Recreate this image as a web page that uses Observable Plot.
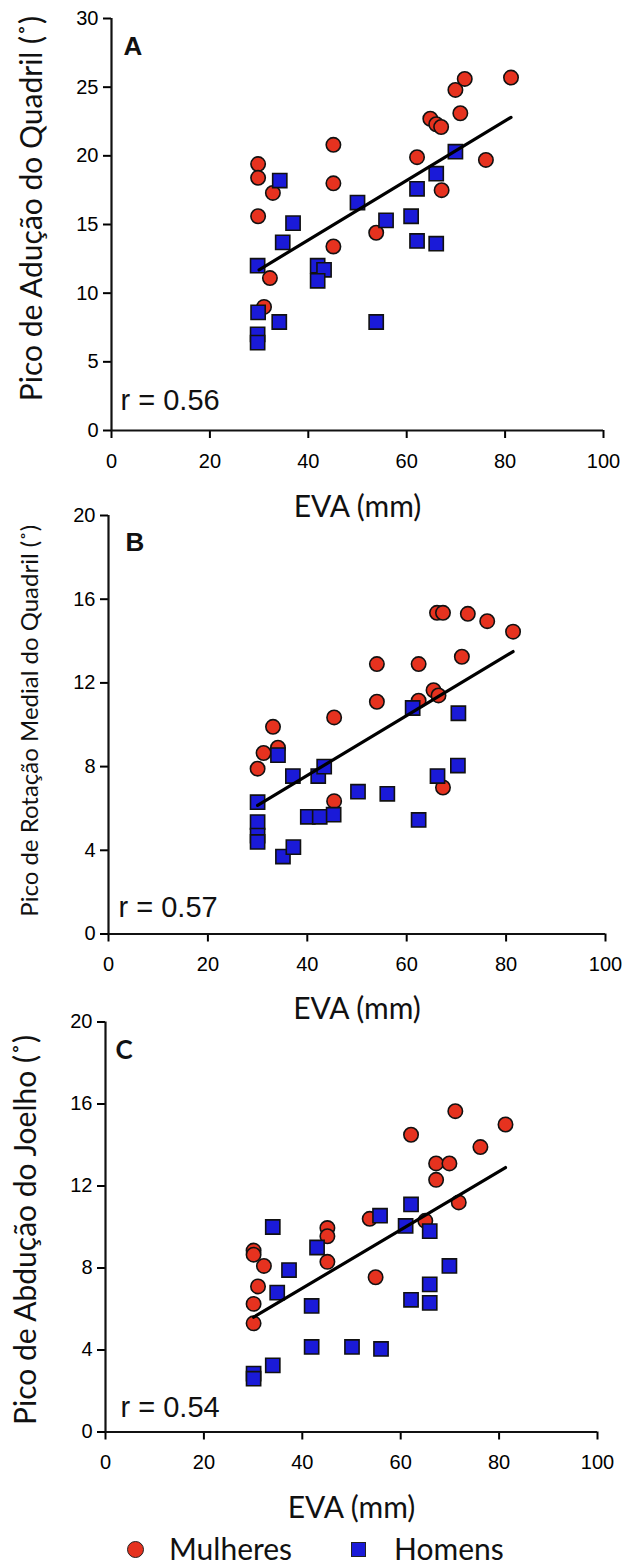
<!DOCTYPE html>
<html><head><meta charset="utf-8">
<script src="https://cdn.jsdelivr.net/npm/d3@7"></script>
<script src="https://cdn.jsdelivr.net/npm/@observablehq/plot@0.6"></script>
<style>
body{margin:0;background:#fff;}
#wrap{position:relative;width:630px;height:1568px;}
#wrap svg{position:absolute;left:0;background:transparent;}
.lg{position:absolute;font-family:Lato,"Open Sans",sans-serif;font-size:30px;line-height:30px;color:#111;white-space:nowrap;}
</style></head><body><div id="wrap"></div>
<script>
// ---------- data ----------
const xTicks = [0, 20, 40, 60, 80, 100];
const xLabel = "EVA (mm)";
const groups = ["Mulheres", "Homens"];

// Panel A
const aTicks = [0, 5, 10, 15, 20, 25, 30];
const aLabel = "Pico de Adução do Quadril (˚)";
const aR = "r = 0.56";
const aWomen = [[29.8,19.4],[29.8,18.4],[32.8,17.3],[29.8,15.6],[45.1,20.8],[45.1,18.0],[45.1,13.4],[32.2,11.1],[31.0,9.0],[53.8,14.4],[71.8,25.6],[69.9,24.8],[70.9,23.1],[81.2,25.7],[64.8,22.7],[66.0,22.3],[67.0,22.1],[62.1,19.9],[76.1,19.7],[67.1,17.5]];
const aMen = [[34.2,18.2],[36.9,15.1],[34.8,13.7],[29.7,12.0],[41.9,12.0],[43.2,11.7],[41.9,10.9],[50.0,16.6],[29.8,8.6],[34.1,7.9],[29.7,7.0],[29.7,6.4],[53.8,7.9],[55.8,15.3],[69.9,20.3],[66.0,18.7],[62.1,17.6],[60.9,15.6],[62.1,13.8],[66.0,13.6]];
const aFit = [[30, 11.7], [81.2, 22.8]];

// Panel B
const bTicks = [0, 4, 8, 12, 16, 20];
const bLabel = "Pico de Rotação Medial do Quadril (˚)";
const bR = "r = 0.57";
const bWomen = [[33.1,9.9],[31.2,8.65],[34.1,8.9],[30.0,7.9],[45.4,10.35],[45.4,6.35],[54.0,12.9],[54.0,11.1],[62.4,12.9],[62.4,11.15],[65.4,11.65],[66.4,11.4],[66.1,15.35],[67.3,15.35],[72.3,15.3],[76.2,14.95],[81.4,14.45],[71.1,13.25],[67.3,7.0]];
const bMen = [[34.1,8.55],[37.1,7.55],[42.2,7.55],[43.4,8.0],[30.0,6.3],[30.0,5.35],[30.0,4.7],[30.0,4.4],[35.1,3.7],[37.2,4.15],[40.1,5.6],[42.5,5.6],[45.3,5.7],[50.2,6.8],[56.1,6.7],[61.2,10.8],[70.4,10.55],[70.3,8.05],[66.2,7.55],[62.4,5.45]];
const bFit = [[30, 6.15], [81.4, 13.5]];

// Panel C
const cTicks = [0, 4, 8, 12, 16, 20];
const cLabel = "Pico de Abdução do Joelho (˚)";
const cR = "r = 0.54";
const cWomen = [[30.1,8.85],[30.1,8.65],[32.2,8.1],[31.0,7.1],[30.1,6.25],[30.1,5.3],[45.1,9.95],[45.1,9.55],[45.1,8.3],[53.7,10.4],[54.9,7.55],[71.1,15.65],[81.3,15.0],[62.1,14.5],[76.2,13.9],[67.2,13.1],[69.9,13.1],[67.2,12.3],[71.8,11.2],[65.0,10.3]];
const cMen = [[34.0,10.0],[43.0,9.0],[37.3,7.9],[34.9,6.8],[41.9,6.15],[41.9,4.15],[50.1,4.15],[56.0,4.05],[34.0,3.25],[30.1,2.85],[30.1,2.6],[55.8,10.55],[62.1,11.1],[61.0,10.05],[65.9,9.8],[69.9,8.1],[65.9,7.2],[62.1,6.45],[65.9,6.3]];
const cFit = [[30.1, 5.6], [81.3, 12.9]];

// ---------- styling ----------
const RED = "#e6321f", BLUE = "#1a1ad8";
const TITLE_FONT = "Lato, 'Open Sans', sans-serif";
const TICK_FONT = "'Liberation Sans', Arial, sans-serif";

function panel(cfg) {
  const {top, height, mt, mb, ml, mr, yTicks, women, men, fit, letter, letterFont, letterDx, letterDy,
         rText, rDx, rDy, yLabel, yLabelSize, yLabelDx, yLabelDy, xLabelDy} = cfg;
  const svg = Plot.plot({
    width: 630, height,
    marginTop: mt, marginBottom: mb, marginLeft: ml, marginRight: mr,
    style: {fontFamily: TICK_FONT, background: "transparent", overflow: "visible"},
    x: {domain: [0, 100]},
    y: {domain: [0, yTicks[yTicks.length - 1]]},
    marks: [
      Plot.axisX({ticks: xTicks, tickSize: 8, tickPadding: 15, fontSize: 20, label: null, strokeWidth: 2, tickFormat: d => d}),
      Plot.axisY({ticks: yTicks, tickSize: 8, tickPadding: 5, fontSize: 20, label: null, strokeWidth: 2, tickFormat: d => d}),
      Plot.ruleY([0], {stroke: "#111", strokeWidth: 2.2}),
      Plot.ruleX([0], {stroke: "#111", strokeWidth: 2.2}),
      Plot.dot(women, {x: d => d[0], y: d => d[1], r: 7.2, fill: RED, stroke: "#111", strokeWidth: 1.6}),
      Plot.dot(men, {x: d => d[0], y: d => d[1], r: 8, symbol: "square", fill: BLUE, stroke: "#111", strokeWidth: 1.6}),
      Plot.line(fit, {x: d => d[0], y: d => d[1], stroke: "#000", strokeWidth: 3.2}),
      Plot.text([letter], {frameAnchor: "top-left", textAnchor: "start", lineAnchor: "middle", dx: letterDx, dy: letterDy, fontSize: 26, fontWeight: "bold", fontFamily: letterFont, fill: "#111"}),
      Plot.text([rText], {frameAnchor: "bottom-left", textAnchor: "start", lineAnchor: "middle", dx: rDx, dy: rDy, fontSize: 29, fontFamily: TICK_FONT, fill: "#111"}),
      Plot.text([yLabel], {frameAnchor: "left", textAnchor: "middle", lineAnchor: "middle", rotate: -90, dx: yLabelDx, dy: yLabelDy, fontSize: yLabelSize, fontFamily: TITLE_FONT, fill: "#111"}),
      Plot.text([xLabel], {frameAnchor: "bottom", textAnchor: "middle", lineAnchor: "middle", dy: xLabelDy, fontSize: 30, fontFamily: TITLE_FONT, fill: "#111"})
    ]
  });
  svg.style.top = top + "px";
  return svg;
}

const wrap = document.getElementById("wrap");
wrap.appendChild(panel({top: 0, height: 525, mt: 18, mb: 95, ml: 111, mr: 27, yTicks: aTicks,
  women: aWomen, men: aMen, fit: aFit, letter: "A", letterFont: TICK_FONT, letterDx: 12, letterDy: 28,
  rText: aR, rDx: 9, rDy: -30, yLabel: aLabel, yLabelSize: 30, yLabelDx: -79, yLabelDy: -16, xLabelDy: 77}));
wrap.appendChild(panel({top: 500, height: 525, mt: 15, mb: 91.5, ml: 108, mr: 25, yTicks: bTicks,
  women: bWomen, men: bMen, fit: bFit, letter: "B", letterFont: TICK_FONT, letterDx: 17, letterDy: 27,
  rText: bR, rDx: 10, rDy: -26, yLabel: bLabel, yLabelSize: 24, yLabelDx: -78, yLabelDy: -4, xLabelDy: 75}));
wrap.appendChild(panel({top: 1000, height: 530, mt: 21.5, mb: 98.5, ml: 105, mr: 33, yTicks: cTicks,
  women: cWomen, men: cMen, fit: cFit, letter: "C", letterFont: TITLE_FONT, letterDx: 10, letterDy: 28.5,
  rText: cR, rDx: 15, rDy: -24.5, yLabel: cLabel, yLabelSize: 30, yLabelDx: -79, yLabelDy: 3, xLabelDy: 76.5}));

// legend
const lg = [
  {kind: "circle", label: groups[0], sym: 127, txt: 169},
  {kind: "square", label: groups[1], sym: 351, txt: 394}
];
for (const item of lg) {
  const s = document.createElement("div");
  s.style.position = "absolute";
  s.style.boxSizing = "border-box";
  if (item.kind === "circle") {
    Object.assign(s.style, {left: item.sym + "px", top: "1541px", width: "17px", height: "17px", borderRadius: "50%", background: RED, border: "1.5px solid #222"});
  } else {
    Object.assign(s.style, {left: item.sym + "px", top: "1542px", width: "15px", height: "15px", background: BLUE, border: "1.5px solid #222"});
  }
  wrap.appendChild(s);
  const t = document.createElement("div");
  t.className = "lg";
  t.textContent = item.label;
  Object.assign(t.style, {left: item.txt + "px", top: "1533px"});
  wrap.appendChild(t);
}
</script></body></html>
